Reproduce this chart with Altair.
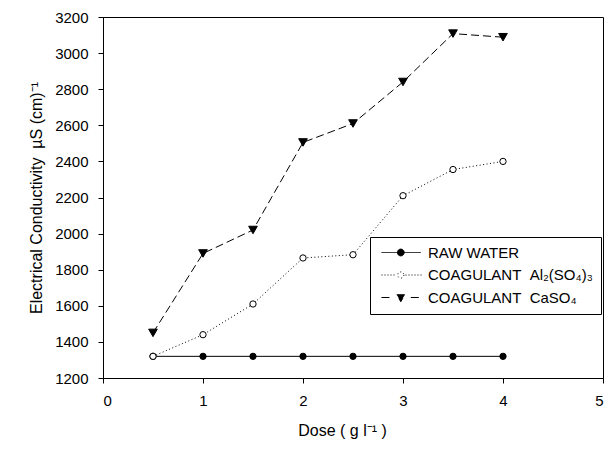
import math
import altair as alt
import pandas as pd

# ---- data ----
dose = [0.5, 1.0, 1.5, 2.0, 2.5, 3.0, 3.5, 4.0]
raw_water = [1320, 1320, 1320, 1320, 1320, 1320, 1320, 1320]
al2so43 = [1320, 1440, 1610, 1865, 1883, 2210, 2355, 2400]
caso4 = [1450, 1890, 2020, 2505, 2610, 2840, 3108, 3088]

series_names = [
    "RAW WATER",
    "COAGULANT\u00a0\u00a0Al\u2082(SO\u2084)\u2083",
    "COAGULANT\u00a0\u00a0CaSO\u2084",
]
x_ticks = [0, 1, 2, 3, 4, 5]
y_ticks = [1200, 1400, 1600, 1800, 2000, 2200, 2400, 2600, 2800, 3000, 3200]

rows = []
for name, vals in zip(series_names, [raw_water, al2so43, caso4]):
    for d, v in zip(dose, vals):
        rows.append({"series": name, "dose": d, "value": v})
df = pd.DataFrame(rows)

FONT = "Liberation Sans"

# ---- legend symbols (line + marker), unit = 5 px ----
X0, X1, MC = -0.8, 7.06, 3.06


def f(v):
    return f"{v:.3f}"


def circle(cx, r, n=24):
    pts = [(cx + r * math.cos(2 * math.pi * i / n), r * math.sin(2 * math.pi * i / n)) for i in range(n)]
    return "M" + "L".join(f"{f(a)},{f(b)}" for a, b in pts) + "Z"


raw_path = f"M{f(X0)},0H{f(X1)}" + circle(MC, 0.68)
dots = []
p = X0
while p < X1:
    if not (MC - 0.95 < p < MC + 0.8):
        dots.append(f"M{f(p)},0H{f(p + 0.2)}")
    p += 0.6
al_path = "".join(dots) + circle(MC, 0.62)
ca_path = (
    f"M{f(X0)},0H{f(X0 + 2.0)}M{f(X1 - 2.0)},0H{f(X1)}"
    + f"M{f(MC - 0.8)},-0.55L{f(MC + 0.8)},-0.55L{f(MC)},0.85Z"
)
legend_paths = [raw_path, al_path, ca_path]

x_enc = alt.X(
    "dose:Q",
    scale=alt.Scale(domain=[0, 5], nice=False),
    axis=alt.Axis(values=x_ticks, format="d", title="Dose ( g l\u207b\u00b9 )",
                  titlePadding=14, titleX=239),
)
y_enc = alt.Y(
    "value:Q",
    scale=alt.Scale(domain=[1200, 3200], nice=False, zero=False),
    axis=alt.Axis(values=y_ticks, format="d",
                  title="Electrical Conductivity\u00a0\u00a0\u00b5S (cm)\u207b\u00b9",
                  titlePadding=10),
)

base = alt.Chart(df)

lines = base.mark_line(color="black", strokeWidth=1).encode(
    x=x_enc,
    y=y_enc,
    detail="series:N",
    strokeDash=alt.StrokeDash(
        "series:N",
        scale=alt.Scale(domain=series_names, range=[[1, 0], [1, 2.5], [8, 4]]),
        legend=None,
    ),
)

legend_obj = alt.Legend(
    title=None,
    orient="none",
    legendX=267,
    legendY=220,
    symbolSize=100,
    symbolStrokeWidth=1,
    symbolStrokeColor="black",
    symbolOpacity=1,
    labelFont=FONT,
    labelFontSize=15,
    labelColor="black",
    labelOffset=35,
    labelLimit=400,
    padding=8,
    rowPadding=6.5,
    strokeColor="black",
    fillColor="white",
    cornerRadius=0,
)

# invisible layer that only carries the legend
legend_layer = base.mark_point(
    filled=True, strokeWidth=1, opacity=0, size=100
).encode(
    x=x_enc,
    y=y_enc,
    shape=alt.Shape("series:N", scale=alt.Scale(domain=series_names, range=legend_paths), legend=legend_obj),
    fill=alt.Fill("series:N", scale=alt.Scale(domain=series_names, range=["black", "white", "black"]), legend=legend_obj),
    stroke=alt.Stroke("series:N", scale=alt.Scale(domain=series_names, range=["black", "black", "black"]), legend=legend_obj),
)

raw_pts = base.transform_filter(alt.datum.series == series_names[0]).mark_point(
    shape="circle", filled=True, fill="black", stroke="black", strokeWidth=1, size=40, opacity=1
).encode(x=x_enc, y=y_enc)

al_pts = base.transform_filter(alt.datum.series == series_names[1]).mark_point(
    shape="circle", filled=True, fill="white", stroke="black", strokeWidth=1, size=40, opacity=1
).encode(x=x_enc, y=y_enc)

ca_pts = base.transform_filter(alt.datum.series == series_names[2]).mark_point(
    shape="triangle-down", filled=True, fill="black", stroke="black", strokeWidth=1, size=75, opacity=1
).encode(x=x_enc, y=y_enc)

chart = (
    alt.layer(legend_layer, lines, raw_pts, al_pts, ca_pts)
    .properties(
        width=500,
        height=361,
        autosize=alt.AutoSizeParams(type="none"),
        padding={"left": 103, "top": 17, "right": 13, "bottom": 71},
        background="white",
    )
    .configure_view(stroke="black", strokeWidth=1)
    .configure_axis(
        grid=False,
        domainColor="black",
        domainWidth=1,
        tickColor="black",
        tickWidth=1,
        tickSize=5,
        labelColor="black",
        labelFont=FONT,
        labelFontSize=15,
        labelPadding=10,
        titleColor="black",
        titleFont=FONT,
        titleFontSize=16,
        titleFontWeight="normal",
    )
)

chart.save("out.html", embed_options={"renderer": "svg", "actions": False})
